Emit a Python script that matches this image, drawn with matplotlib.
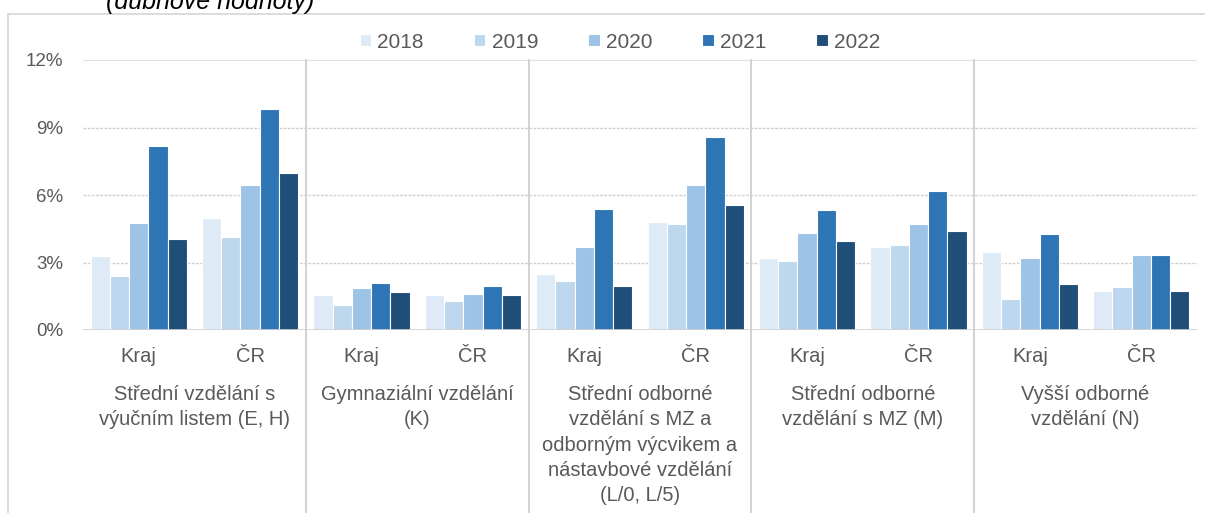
import numpy as np
import matplotlib.pyplot as plt
from matplotlib.transforms import blended_transform_factory
from matplotlib.lines import Line2D

plt.rcParams['font.family'] = ['Liberation Sans', 'DejaVu Sans']

# data (percent), 10 bars per year: Kraj/ČR for 5 education groups
years = ['2018', '2019', '2020', '2021', '2022']
sub_labels = ['Kraj', 'ČR'] * 5
group_labels = [
    'Střední vzdělání s\nvýučním listem (E, H)',
    'Gymnaziální vzdělání\n(K)',
    'Střední odborné\nvzdělání s MZ a\nodborným výcvikem a\nnástavbové vzdělání\n(L/0, L/5)',
    'Střední odborné\nvzdělání s MZ (M)',
    'Vyšší odborné\nvzdělání (N)',
]
v2018 = [3.3, 5.0, 1.55, 1.55, 2.5, 4.8, 3.2, 3.7, 3.45, 1.75]
v2019 = [2.4, 4.15, 1.1, 1.3, 2.2, 4.7, 3.05, 3.8, 1.4, 1.9]
v2020 = [4.75, 6.45, 1.85, 1.6, 3.7, 6.45, 4.3, 4.7, 3.2, 3.35]
v2021 = [8.2, 9.8, 2.1, 1.95, 5.4, 8.6, 5.35, 6.2, 4.25, 3.35]
v2022 = [4.05, 7.0, 1.7, 1.55, 1.95, 5.55, 3.95, 4.4, 2.05, 1.75]
series = [v2018, v2019, v2020, v2021, v2022]
colors = ['#deebf7', '#bdd7ee', '#9dc3e6', '#2e75b6', '#1f4e79']

text_col = '#595959'
grid_col = '#d0d0d0'

W, H = 1205, 513
fig = plt.figure(figsize=(W / 100, H / 100), dpi=100)
ax = fig.add_axes([83 / W, 1 - 330 / H, (1197 - 83) / W, 270 / H])

x = np.arange(len(sub_labels))
bw = 0.173
for i, (vals, c) in enumerate(zip(series, colors)):
    ax.bar(x + (i - 2) * bw, vals, width=bw, color=c, edgecolor='white',
           linewidth=0.8, label=years[i], zorder=3)

ax.set_xlim(-0.5, len(sub_labels) - 0.5)
ax.set_ylim(0, 12)
ax.set_yticks([0, 3, 6, 9, 12])
ax.set_yticklabels([f'{t}%' for t in [0, 3, 6, 9, 12]])
ax.tick_params(axis='y', length=0, pad=14, labelsize=13.5, labelcolor=text_col)
ax.set_xticks([])
for s in ax.spines.values():
    s.set_visible(False)
for yv in [3, 6, 9]:
    ax.axhline(yv, color=grid_col, lw=1, ls=(0, (2, 1)), zorder=1)
ax.axhline(12, color='#d9d9d9', lw=1.2, zorder=1)
ax.axhline(0, color='#d0d0d0', lw=1.2, zorder=4)

# group separators from plot top to bottom of figure
trans = blended_transform_factory(ax.transData, fig.transFigure)
for sx in [1.5, 3.5, 5.5, 7.5]:
    fig.add_artist(Line2D([sx, sx], [1 - 60 / H, 0], transform=trans,
                          color='#cfcfcf', lw=1.3))

# category labels
for xi, lab in zip(x, sub_labels):
    ax.text(xi, 1 - 356 / H, lab, transform=trans, ha='center', va='center',
            fontsize=14.5, color=text_col)
for gi, lab in enumerate(group_labels):
    ax.text(2 * gi + 0.5, 1 - 385 / H, lab, transform=trans, ha='center',
            va='top', fontsize=14.5, color=text_col, linespacing=1.42)

# chart frame
fig.add_artist(Line2D([8 / W, 8 / W], [1 - 14 / H, 0], transform=fig.transFigure,
                      color='#d9d9d9', lw=1.3))
fig.add_artist(Line2D([8 / W, 1], [1 - 14 / H, 1 - 14 / H], transform=fig.transFigure,
                      color='#d9d9d9', lw=1.3))

fig.text(106 / W, 1 - 9 / H, '(dubnové hodnoty)', fontsize=18, style='italic',
         color='#000000', ha='left', va='baseline')

leg = ax.legend(loc='center', bbox_to_anchor=(620 / W, 1 - 42 / H),
                bbox_transform=fig.transFigure, ncol=5, frameon=False,
                fontsize=15, handlelength=0.55, handleheight=0.55,
                handletextpad=0.3, columnspacing=2.4)
for t in leg.get_texts():
    t.set_color(text_col)

fig.savefig('out.png', dpi=100)
